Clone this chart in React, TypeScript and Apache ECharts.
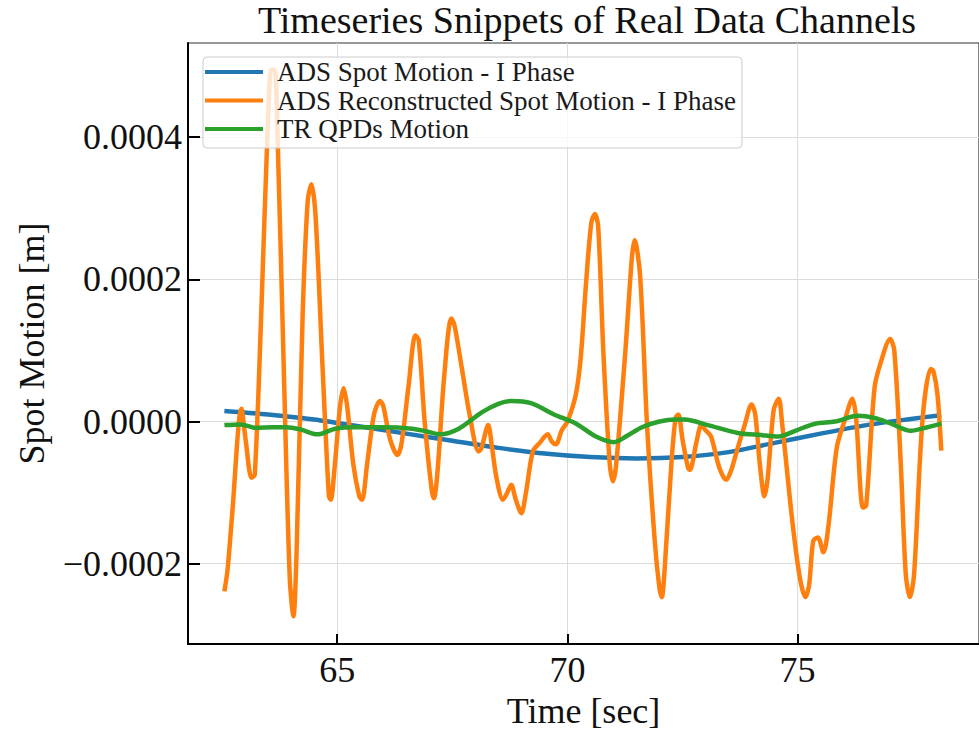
import React, { useEffect, useRef } from "react";
import * as echarts from "echarts";

const TITLE = "Timeseries Snippets of Real Data Channels";
const SERIES_NAMES = [
  "ADS Spot Motion - I Phase",
  "ADS Reconstructed Spot Motion - I Phase",
  "TR QPDs Motion",
];
const COLORS = ["#1f77b4", "#ff7f0e", "#2ca02c"];
const X_TICKS = [65, 70, 75];
const Y_TICKS = [-0.0002, 0, 0.0002, 0.0004];

// [time (s), spot motion (m)]
const adsSpot: [number, number][] = [
  [62.55, 0.15e-4], [63.5, 0.1e-4], [64.5, 0.03e-4], [65.0, -0.02e-4], [65.5, -0.07e-4],
  [66.5, -0.17e-4], [67.5, -0.27e-4], [68.5, -0.37e-4], [69.5, -0.45e-4], [70.5, -0.5e-4],
  [71.5, -0.52e-4], [72.5, -0.5e-4], [73.5, -0.43e-4], [74.5, -0.3e-4], [75.5, -0.17e-4],
  [76.5, -0.05e-4], [77.5, 0.04e-4], [78.12, 0.09e-4],
];

const adsRecon: [number, number][] = [
  [62.55, -2.39e-4], [62.62, -2.08e-4], [62.72, -1.3e-4], [62.92, 0.18e-4], [63.02, -0.3e-4],
  [63.14, -0.79e-4], [63.21, -0.75e-4], [63.35, 1.5e-4], [63.5, 4.3e-4], [63.57, 4.95e-4],
  [63.64, 4.95e-4], [63.71, 3.9e-4], [63.85, 0.5e-4], [63.97, -2.2e-4], [64.05, -2.74e-4],
  [64.12, -1.8e-4], [64.25, 1.5e-4], [64.36, 3.1e-4], [64.44, 3.34e-4], [64.53, 2.9e-4],
  [64.68, 0.8e-4], [64.82, -1.05e-4], [64.86, -1.1e-4], [64.95, -0.6e-4], [65.06, 0.2e-4],
  [65.14, 0.47e-4], [65.22, 0.2e-4], [65.35, -0.6e-4], [65.48, -1.05e-4], [65.54, -1.1e-4],
  [65.65, -0.6e-4], [65.8, 0.1e-4], [65.93, 0.29e-4], [66.0, 0.22e-4], [66.15, -0.25e-4],
  [66.31, -0.47e-4], [66.4, -0.3e-4], [66.55, 0.5e-4], [66.7, 1.21e-4], [66.77, 1.15e-4],
  [66.9, 0.0], [67.05, -0.95e-4], [67.1, -1.08e-4], [67.18, -0.7e-4], [67.32, 0.6e-4],
  [67.48, 1.45e-4], [67.55, 1.35e-4], [67.71, 0.74e-4], [67.89, 0.05e-4], [68.07, -0.42e-4],
  [68.13, -0.38e-4], [68.28, -0.05e-4], [68.36, -0.35e-4], [68.46, -0.79e-4], [68.6, -1.1e-4],
  [68.68, -1.02e-4], [68.78, -0.89e-4], [68.88, -1.1e-4], [69.0, -1.29e-4], [69.1, -1.0e-4],
  [69.25, -0.42e-4], [69.4, -0.3e-4], [69.57, -0.18e-4], [69.66, -0.28e-4], [69.75, -0.32e-4],
  [69.88, -0.12e-4], [70.0, 0.0], [70.18, 0.37e-4], [70.29, 0.9e-4], [70.4, 1.9e-4],
  [70.52, 2.8e-4], [70.6, 2.92e-4], [70.67, 2.74e-4], [70.78, 1.0e-4], [70.92, -0.6e-4],
  [70.99, -0.84e-4], [71.06, -0.6e-4], [71.26, 1.0e-4], [71.4, 2.3e-4], [71.46, 2.55e-4],
  [71.58, 2.05e-4], [71.73, -0.05e-4], [71.9, -1.7e-4], [72.0, -2.35e-4], [72.05, -2.47e-4],
  [72.12, -2.0e-4], [72.26, -0.58e-4], [72.35, 0.05e-4], [72.41, 0.1e-4], [72.5, -0.25e-4],
  [72.62, -0.65e-4], [72.66, -0.68e-4], [72.8, -0.3e-4], [72.91, -0.05e-4], [73.0, -0.12e-4],
  [73.12, -0.21e-4], [73.3, -0.65e-4], [73.45, -0.82e-4], [73.55, -0.7e-4], [73.7, -0.37e-4],
  [73.85, -0.05e-4], [74.0, 0.24e-4], [74.08, 0.1e-4], [74.18, -0.6e-4], [74.28, -1.05e-4],
  [74.35, -0.8e-4], [74.48, 0.16e-4], [74.59, 0.32e-4], [74.66, 0.0], [74.88, -1.37e-4],
  [75.05, -2.2e-4], [75.17, -2.47e-4], [75.25, -2.3e-4], [75.34, -1.68e-4], [75.44, -1.63e-4],
  [75.56, -1.84e-4], [75.67, -1.47e-4], [75.85, -0.37e-4], [76.03, 0.03e-4], [76.19, 0.32e-4],
  [76.27, 0.05e-4], [76.42, -1.21e-4], [76.49, -1.18e-4], [76.67, 0.47e-4], [76.81, 0.84e-4],
  [77.01, 1.16e-4], [77.1, 1.0e-4], [77.24, -0.58e-4], [77.35, -2.15e-4], [77.44, -2.47e-4],
  [77.53, -2.15e-4], [77.71, 0.0], [77.89, 0.74e-4], [77.95, 0.71e-4], [78.04, 0.37e-4],
  [78.12, -0.41e-4],
];

const trQpd: [number, number][] = [
  [62.55, -0.05e-4], [62.9, -0.04e-4], [63.24, -0.09e-4], [63.6, -0.08e-4], [63.89, -0.08e-4],
  [64.2, -0.11e-4], [64.57, -0.18e-4], [64.96, -0.1e-4], [65.39, -0.08e-4], [65.99, -0.08e-4],
  [66.63, -0.1e-4], [66.95, -0.14e-4], [67.24, -0.18e-4], [67.64, -0.1e-4], [68.14, 0.13e-4],
  [68.5, 0.25e-4], [68.78, 0.29e-4], [69.21, 0.26e-4], [69.71, 0.1e-4], [70.19, -0.03e-4],
  [70.62, -0.21e-4], [71.01, -0.29e-4], [71.3, -0.2e-4], [71.62, -0.08e-4], [72.0, 0.0],
  [72.34, 0.03e-4], [72.55, 0.03e-4], [73.05, -0.05e-4], [73.7, -0.16e-4], [74.2, -0.19e-4],
  [74.59, -0.21e-4], [74.95, -0.13e-4], [75.38, -0.03e-4], [75.81, 0.0], [76.31, 0.08e-4],
  [76.67, 0.05e-4], [77.03, -0.03e-4], [77.46, -0.13e-4], [77.82, -0.08e-4], [78.12, -0.03e-4],
];

const FONT = "'Liberation Serif', 'DejaVu Serif', serif";

export default function App() {
  const ref = useRef<HTMLDivElement>(null);
  useEffect(() => {
    if (!ref.current) return;
    const chart = echarts.init(ref.current, null, { renderer: "svg" });
    const fmtY = (v: number) => (v < 0 ? "\u2212" : "") + Math.abs(v).toFixed(4);
    const datasets = [adsSpot, adsRecon, trQpd];
    chart.setOption({
      animation: false,
      backgroundColor: "#ffffff",
      graphic: [
        {
          type: "text",
          x: 587,
          y: 1,
          style: {
            text: TITLE,
            fontFamily: FONT,
            fontSize: 38,
            fill: "#111",
            textAlign: "center",
            textVerticalAlign: "top",
          },
        },
      ],
      legend: {
        orient: "vertical",
        left: 203,
        top: 57,
        padding: [1, 6, 5, 2],
        itemGap: 0.5,
        itemWidth: 58,
        itemHeight: 4,
        icon: "rect",
        backgroundColor: "rgba(255,255,255,0.8)",
        borderColor: "#cccccc",
        borderWidth: 1,
        borderRadius: 4,
        textStyle: {
          fontFamily: FONT,
          fontSize: 27,
          color: "#1a1a1a",
          lineHeight: 28,
          padding: [0, 0, 0, 9],
        },
        data: SERIES_NAMES,
      },
      grid: {
        left: 188,
        top: 43,
        right: -8,
        bottom: 87,
        show: true,
        borderColor: "#333333",
        borderWidth: 1.2,
      },
      xAxis: {
        type: "value",
        min: 61.76,
        max: 78.94,
        name: "Time [sec]",
        nameLocation: "middle",
        nameGap: 44,
        nameTextStyle: { fontFamily: FONT, fontSize: 36, color: "#111" },
        axisLine: { show: true, onZero: false, lineStyle: { color: "#000", width: 2 } },
        axisTick: {
          show: true,
          inside: true,
          length: 10,
          lineStyle: { color: "#000", width: 2 },
          customValues: X_TICKS,
        },
        axisLabel: {
          fontFamily: FONT,
          fontSize: 36,
          color: "#111",
          margin: 8,
          customValues: X_TICKS,
        },
        splitLine: { show: true, lineStyle: { color: "#dcdcdc", width: 1 } },
      },
      yAxis: {
        type: "value",
        min: -0.0003131,
        max: 0.0005326,
        name: "Spot Motion [m]",
        nameLocation: "middle",
        nameGap: 138,
        nameTextStyle: { fontFamily: FONT, fontSize: 36, color: "#111" },
        axisLine: { show: true, onZero: false, lineStyle: { color: "#000", width: 2 } },
        axisTick: {
          show: true,
          inside: true,
          length: 12,
          lineStyle: { color: "#000", width: 2 },
          customValues: Y_TICKS,
        },
        axisLabel: {
          fontFamily: FONT,
          fontSize: 36,
          color: "#111",
          margin: 6,
          formatter: fmtY,
          customValues: Y_TICKS,
        },
        splitLine: { show: true, lineStyle: { color: "#dcdcdc", width: 1 } },
      },
      series: SERIES_NAMES.map((name, i) => ({
        name,
        type: "line",
        data: datasets[i],
        showSymbol: false,
        smooth: 0.3,
        color: COLORS[i],
        lineStyle: { width: 4.5, color: COLORS[i] },
        z: 2 + i,
      })),
    });
    return () => chart.dispose();
  }, []);
  return (
    <div
      ref={ref}
      style={{ position: "fixed", left: 0, top: 0, width: 979, height: 734 }}
    />
  );
}
